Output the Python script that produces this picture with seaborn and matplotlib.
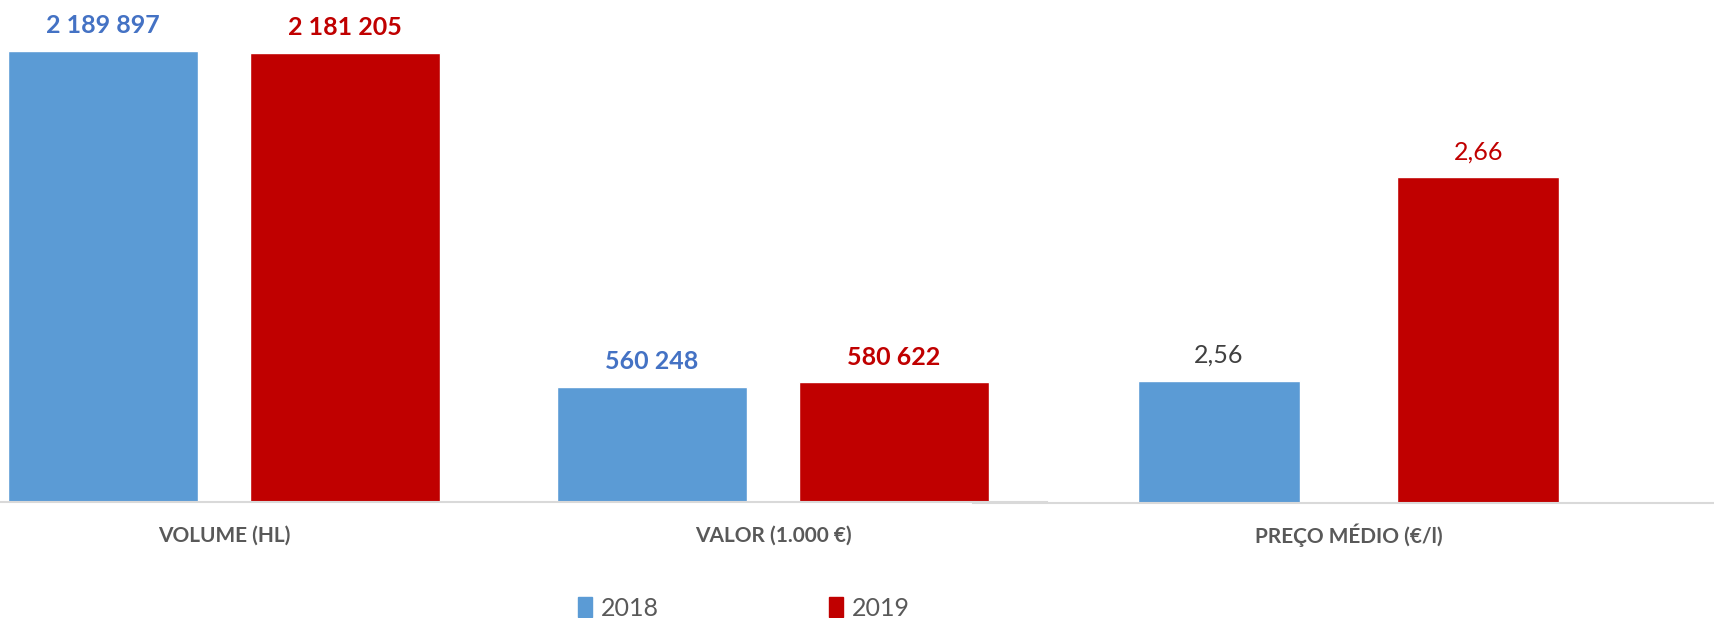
import numpy as np
import pandas as pd
import seaborn as sns
import matplotlib.pyplot as plt
from matplotlib.patches import Patch

# dados
categorias = ['VOLUME (HL)', 'VALOR (1.000 €)']
anos = ['2018', '2019']
valores_2018 = [2189897, 560248]
valores_2019 = [2181205, 580622]
preco_cat = ['PREÇO MÉDIO (€/l)']
preco_2018 = [2.56]
preco_2019 = [2.66]

cores = {'2018': '#5B9BD5', '2019': '#C00000'}
cor_label = {'2018': '#4472C4', '2019': '#C00000'}
cinza = '#595959'

sns.set_style('white')
plt.rcParams['font.family'] = ['Lato', 'DejaVu Sans']

df = pd.DataFrame({
    'categoria': categorias * 2,
    'ano': ['2018'] * 2 + ['2019'] * 2,
    'valor': valores_2018 + valores_2019,
})
df_preco = pd.DataFrame({
    'categoria': preco_cat * 2,
    'ano': ['2018', '2019'],
    'valor': preco_2018 + preco_2019,
})

fig = plt.figure(figsize=(17.14, 6.18), dpi=100)

# eixo principal (volume e valor)
ax1 = fig.add_axes([0, 116 / 618, 1047 / 1714, 502 / 618])
sns.barplot(data=df, x='categoria', y='valor', hue='ano', palette=cores,
            width=0.882, gap=0.215, saturation=1, legend=False, ax=ax1)
ax1.set_xlim(-0.408, 1.499)
ax1.set_ylim(0, 2437000)

for cont, ano in zip(ax1.containers, anos):
    labels = [f'{v:,.0f}'.replace(',', ' ') for v in cont.datavalues]
    ax1.bar_label(cont, labels=labels, padding=10, fontsize=18,
                  fontweight='bold', color=cor_label[ano])

# eixo secundario (preço)
ax2 = fig.add_axes([973 / 1714, 115 / 618, 741 / 1714, 503 / 618])
sns.barplot(data=df_preco, x='categoria', y='valor', hue='ano', palette=cores,
            width=0.70, gap=0.375, saturation=1, legend=False, ax=ax2)
ax2.set_xlim(-0.507, 0.493)
ax2.set_ylim(2.5, 2.747)

cor_preco = {'2018': '#404040', '2019': '#C00000'}
for cont, ano in zip(ax2.containers, anos):
    labels = [f'{v:.2f}'.replace('.', ',') for v in cont.datavalues]
    ax2.bar_label(cont, labels=labels, padding=10, fontsize=18,
                  color=cor_preco[ano])

for ax, pad in ((ax1, 17), (ax2, 15)):
    ax.patch.set_alpha(0)
    ax.set_xlabel('')
    ax.set_ylabel('')
    ax.set_yticks([])
    for s in ['left', 'right', 'top']:
        ax.spines[s].set_visible(False)
    ax.spines['bottom'].set_color('#D9D9D9')
    ax.spines['bottom'].set_linewidth(1.5)
    ax.tick_params(axis='x', length=0, pad=pad)
    for t in ax.get_xticklabels():
        t.set_fontsize(15)
        t.set_fontweight('bold')
        t.set_color(cinza)

handles = [Patch(color=cores[a], label=a) for a in anos]
fig.legend(handles=handles, loc='center', bbox_to_anchor=(744 / 1714, 1 - 608 / 618),
           ncol=2, frameon=False, fontsize=18, labelcolor=cinza,
           handlelength=0.56, handleheight=0.9, handletextpad=0.35,
           columnspacing=6.8)

plt.savefig('out.png', dpi=100)
